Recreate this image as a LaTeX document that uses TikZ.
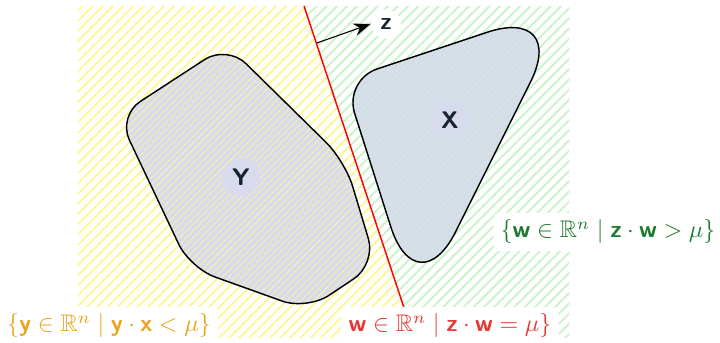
\documentclass[tikz,border=0pt]{standalone}
\usepackage{amsmath,amssymb}
\usepackage{xcolor}
\usetikzlibrary{arrows.meta}
\usetikzlibrary{patterns.meta}

\definecolor{setorange}{RGB}{233,163,28}
\definecolor{setred}{RGB}{229,57,53}
\definecolor{setgreen}{RGB}{30,122,48}
\definecolor{inkdark}{RGB}{22,36,46}
\definecolor{blobfill}{RGB}{216,218,238}
\definecolor{hatchyellow}{RGB}{255,246,150}
\definecolor{hatchgreen}{RGB}{202,243,202}

\newcommand{\bv}[1]{\text{\sffamily\bfseries #1}}

\begin{document}
\begin{tikzpicture}[x=0.4167pt, y=-0.4167pt, line width=0.6pt,
    yhatch/.style={pattern={Lines[angle=45,distance=3pt,line width=0.8pt]}, pattern color=hatchyellow},
    ghatch/.style={pattern={Lines[angle=45,distance=3pt,line width=0.8pt]}, pattern color=hatchgreen},
    yfine/.style={preaction={fill=blobfill}, pattern={Lines[angle=45,distance=2pt,line width=0.3pt]}, pattern color=hatchyellow},
    gfine/.style={preaction={fill=blobfill}, pattern={Lines[angle=45,distance=2pt,line width=0.3pt]}, pattern color=hatchgreen},
    setlab/.style={fill=white, rounded corners=2pt, inner sep=3pt},
    letter/.style={circle, fill=blobfill, inner sep=2pt, text=inkdark, font=\sffamily\bfseries}]
    \useasboundingbox (0,0) rectangle (720,343);

    % half-spaces
    \coordinate (ltop) at (304,6);
    \coordinate (lbot) at (414,338);
    \fill[yhatch] (78,6) -- (ltop) -- (lbot) -- (78,338) -- cycle;
    \fill[ghatch] (ltop) -- (569,6) -- (569,338) -- (lbot) -- cycle;

    % set Y
    \draw[yfine, rounded corners=11pt] (172.5,80.5) -- (118,116) -- (190,268) -- (307,310)
        -- (376,264) -- (345,161) -- (227,45) -- cycle;
    \node[letter] (Y) at (241,177) {Y};

    % set X
    \draw[gfine] (380.5,194.5) [rounded corners=36pt] -- (417,309) -- (569,5)
        [rounded corners=14.6pt] -- (344,80) -- cycle;
    \node[letter] (X) at (450,120) {X};

    % hyperplane and normal
    \draw[red] (ltop) -- (lbot);
    \coordinate (zbase) at (317,43);
    \node[circle, fill=white, inner sep=2pt, text=inkdark, font=\sffamily\bfseries] (z) at (386,24) {z};
    \draw[-{Stealth[length=7pt]}, line width=0.45pt] (zbase) -- (z.west);

    % labels
    \node[setlab, text=setorange] (ylab) at (109,326) {$\{\bv{y}\in\mathbb{R}^n \mid \bv{y}\cdot\bv{x}<\mu\}$};
    \node[setlab, text=setred] (wlab) at (450,326) {$\bv{w}\in\mathbb{R}^n \mid \bv{z}\cdot\bv{w}=\mu\}$};
    \node[setlab, text=setgreen] (glab) at (608,232) {$\{\bv{w}\in\mathbb{R}^n \mid \bv{z}\cdot\bv{w}>\mu\}$};
\end{tikzpicture}
\end{document}
